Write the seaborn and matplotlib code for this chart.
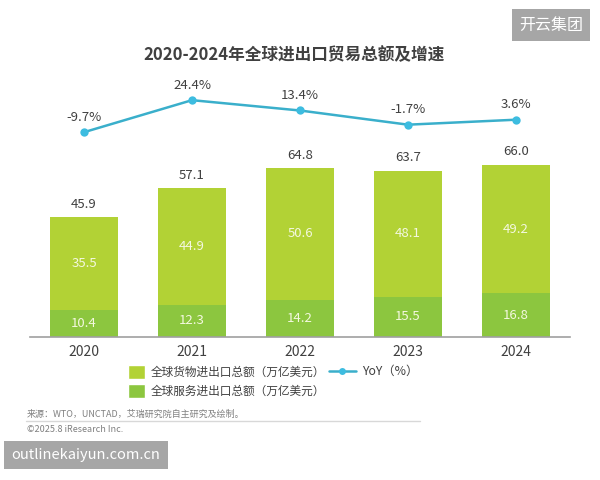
import numpy as np
import pandas as pd
import seaborn as sns
from matplotlib import pyplot as plt
from matplotlib.lines import Line2D
from matplotlib.patches import Patch

years = ["2020", "2021", "2022", "2023", "2024"]
goods = [35.5, 44.9, 50.6, 48.1, 49.2]
services = [10.4, 12.3, 14.2, 15.5, 16.8]
totals = [45.9, 57.1, 64.8, 63.7, 66.0]
yoy = [-9.7, 24.4, 13.4, -1.7, 3.6]

goods_color = "#B2D235"
service_color = "#8CC63F"
line_color = "#3AAFCB"
text_color = "#404040"

sns.set_theme(style="white")
plt.rcParams["font.family"] = ["Noto Sans CJK SC", "DejaVu Sans"]

df = pd.DataFrame({"year": years, "goods": goods, "services": services,
                   "total": totals, "yoy": yoy})

fig = plt.figure(figsize=(6, 4.8), dpi=100)
ax = fig.add_axes([0.05, 0.298, 0.90, 0.535])

# stacked bars: total drawn first, services painted over the bottom part
sns.barplot(data=df, x="year", y="total", color=goods_color, width=0.63,
            saturation=1, linewidth=0, ax=ax)
sns.barplot(data=df, x="year", y="services", color=service_color, width=0.63,
            saturation=1, linewidth=0, ax=ax)

ax.set_xlim(-0.5, 4.5)
ax.set_ylim(0, 98.5)
ax.set_xlabel("")
ax.set_ylabel("")
ax.set_yticks([])
for s in ["top", "right", "left"]:
    ax.spines[s].set_visible(False)
ax.spines["bottom"].set_color("#A0A0A0")
ax.spines["bottom"].set_linewidth(1.2)
ax.tick_params(axis="x", length=0, pad=6, labelsize=10, labelcolor=text_color)

for i in range(len(years)):
    ax.text(i, totals[i] + 2.5, f"{totals[i]:.1f}", ha="center", va="bottom",
            fontsize=9.5, color=text_color)
    ax.text(i, services[i] + goods[i] / 2, f"{goods[i]:.1f}", ha="center",
            va="center", fontsize=9.5, color="#F4F8E0")
    ax.text(i, services[i] / 2, f"{services[i]:.1f}", ha="center",
            va="center", fontsize=9.5, color="#F4F8E0")

ax2 = ax.twinx()
ax2.set_ylim(-227.7, 45.7)
sns.lineplot(x=np.arange(len(years)), y=yoy, color=line_color, lw=1.8,
             marker="o", markersize=6, markerfacecolor="#3DBCE0",
             markeredgewidth=0, ax=ax2)
ax2.set_yticks([])
for s in ax2.spines.values():
    s.set_visible(False)
for i in range(len(years)):
    ax2.text(i, yoy[i] + 9, f"{yoy[i]:.1f}%", ha="center",
             va="bottom", fontsize=9.5, color=text_color)

fig.text(0.49, 0.885, "2020-2024年全球进出口贸易总额及增速", ha="center",
         va="center", fontsize=12, fontweight="bold", color=text_color)

handles = [Patch(facecolor=goods_color), Patch(facecolor=service_color)]
leg = fig.legend(handles, ["全球货物进出口总额（万亿美元）", "全球服务进出口总额（万亿美元）"],
                 loc="upper left", bbox_to_anchor=(0.205, 0.25), frameon=False,
                 fontsize=8.4, handlelength=1.5, handleheight=1.5,
                 handletextpad=0.5, labelspacing=0.4, borderaxespad=0)
for t in leg.get_texts():
    t.set_color(text_color)
lh = [Line2D([0], [0], color=line_color, lw=1.8, marker="o",
             markersize=5, markerfacecolor="#3DBCE0", markeredgewidth=0)]
leg2 = fig.legend(lh, ["YoY（%）"], loc="upper left",
                  bbox_to_anchor=(0.54, 0.25), frameon=False, fontsize=8.8,
                  handlelength=2.2, handletextpad=0.5, borderaxespad=0)
for t in leg2.get_texts():
    t.set_color(text_color)

fig.text(0.045, 0.137, "来源：WTO，UNCTAD，艾瑞研究院自主研究及绘制。", fontsize=6.5,
         color="#808080", va="center")
fig.add_artist(Line2D([0.043, 0.70], [0.123, 0.123], color="#D8D8D8", lw=1))
fig.text(0.045, 0.106, "©2025.8 iResearch Inc.", fontsize=6.5,
         color="#808080", va="center")

fig.text(0.918, 0.948, "开云集团", fontsize=11.5, color="white", ha="center",
         va="center", bbox=dict(boxstyle="square,pad=0.45", fc="#A6A6A6", ec="none"))
fig.text(0.143, 0.052, "outlinekaiyun.com.cn", fontsize=10.5, color="white",
         ha="center", va="center",
         bbox=dict(boxstyle="square,pad=0.5", fc="#A6A6A6", ec="none"))

fig.savefig("out.png", dpi=100, facecolor="white")
